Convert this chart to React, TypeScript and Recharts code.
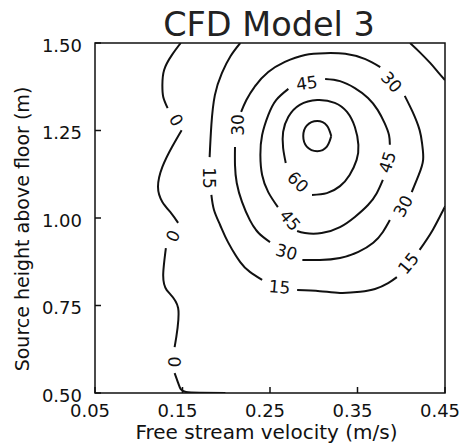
import { ScatterChart, Scatter, XAxis, YAxis, ReferenceArea } from 'recharts';

// contour segments, [velocity (m/s), height (m)]
const zeroA = [[0.148, 1.5], [0.138, 1.466], [0.129, 1.423], [0.127, 1.38], [0.128, 1.346], [0.133, 1.314]];
const zeroB = [[0.149, 1.251], [0.138, 1.203], [0.127, 1.146], [0.122, 1.089], [0.127, 1.046], [0.137, 1.014], [0.145, 0.986]];
const zeroC = [[0.131, 0.914], [0.128, 0.843], [0.132, 0.794], [0.145, 0.743], [0.141, 0.631]];
const zeroD = [[0.141, 0.557], [0.145, 0.529], [0.148, 0.511], [0.154, 0.503], [0.17, 0.501], [0.199, 0.5]];

const fifteenA = [[0.216, 1.5], [0.205, 1.463], [0.195, 1.414], [0.187, 1.351], [0.183, 1.266], [0.181, 1.174]];
const fifteenB = [[0.183, 1.066], [0.186, 1.023], [0.193, 0.98], [0.202, 0.931], [0.216, 0.874], [0.227, 0.846], [0.241, 0.823]];
const fifteenC = [[0.281, 0.794], [0.307, 0.791], [0.33, 0.786], [0.353, 0.789], [0.37, 0.797], [0.385, 0.814], [0.395, 0.831]];
const fifteenD = [[0.421, 0.909], [0.436, 0.966], [0.448, 1.023], [0.45, 1.031]];

const thirtyA = [[0.21, 1.203], [0.21, 1.151], [0.212, 1.1], [0.218, 1.046], [0.227, 0.994], [0.237, 0.957], [0.25, 0.931]];
const thirtyB = [[0.287, 0.88], [0.307, 0.88], [0.33, 0.886], [0.351, 0.903], [0.368, 0.929], [0.379, 0.96], [0.387, 0.994]];
const thirtyC = [[0.412, 1.074], [0.42, 1.123], [0.425, 1.166], [0.424, 1.209], [0.421, 1.251], [0.413, 1.303], [0.404, 1.349]];
const thirtyD = [[0.376, 1.431], [0.359, 1.454], [0.336, 1.469], [0.313, 1.471], [0.29, 1.466], [0.267, 1.446], [0.248, 1.417], [0.233, 1.377], [0.223, 1.337], [0.217, 1.303]];

const fortyFiveA = [[0.313, 1.397], [0.33, 1.391], [0.347, 1.371], [0.362, 1.343], [0.373, 1.309], [0.381, 1.271], [0.386, 1.237], [0.387, 1.209]];
const fortyFiveB = [[0.379, 1.109], [0.372, 1.071], [0.362, 1.037], [0.347, 1.003], [0.33, 0.974], [0.309, 0.957], [0.29, 0.957], [0.281, 0.963]];
const fortyFiveC = [[0.259, 1.031], [0.248, 1.074], [0.241, 1.123], [0.239, 1.18], [0.241, 1.237], [0.248, 1.294], [0.257, 1.337], [0.271, 1.369]];

const sixty = [[0.298, 1.066], [0.315, 1.071], [0.33, 1.091], [0.341, 1.123], [0.349, 1.166], [0.351, 1.209], [0.347, 1.26], [0.338, 1.303], [0.324, 1.329], [0.304, 1.337], [0.284, 1.323], [0.271, 1.289], [0.265, 1.246], [0.265, 1.2], [0.268, 1.157]];

const inner = [[0.32, 1.234], [0.315, 1.264], [0.304, 1.277], [0.292, 1.264], [0.288, 1.234], [0.292, 1.204], [0.304, 1.191], [0.315, 1.204], [0.32, 1.234]];

const corner = [[0.41, 1.5], [0.421, 1.474], [0.433, 1.443], [0.442, 1.417], [0.45, 1.394]];

const contourLabels = [
  { x: 0.143, y: 1.28, text: '0', angle: 57 },
  { x: 0.139, y: 0.949, text: '0', angle: -64 },
  { x: 0.141, y: 0.589, text: '0', angle: -88 },
  { x: 0.18, y: 1.114, text: '15', angle: 90 },
  { x: 0.261, y: 0.803, text: '15', angle: 5 },
  { x: 0.408, y: 0.871, text: '15', angle: -50 },
  { x: 0.213, y: 1.266, text: '30', angle: -90 },
  { x: 0.269, y: 0.903, text: '30', angle: 15 },
  { x: 0.402, y: 1.034, text: '30', angle: -62 },
  { x: 0.389, y: 1.389, text: '30', angle: 48 },
  { x: 0.292, y: 1.386, text: '45', angle: -8 },
  { x: 0.384, y: 1.16, text: '45', angle: -72 },
  { x: 0.273, y: 0.994, text: '45', angle: 50 },
  { x: 0.282, y: 1.103, text: '60', angle: 45 },
];

const xTicks = [0.05, 0.15, 0.25, 0.35, 0.45];
const yTicks = [0.5, 0.75, 1.0, 1.25, 1.5];

const segments = [zeroA, zeroB, zeroC, zeroD, fifteenA, fifteenB, fifteenC, fifteenD,
  thirtyA, thirtyB, thirtyC, thirtyD, fortyFiveA, fortyFiveB, fortyFiveC, sixty, inner, corner];

const font = '"DejaVu Sans", sans-serif';

const XTick = (props: any) => {
  const { x, y, payload } = props;
  return (
    <g>
      <line x1={x} y1={y} x2={x} y2={y - 6} stroke="#111" strokeWidth={1.5} />
      <text x={x - 5} y={y + 23.5} textAnchor="middle" fontSize={18} fontFamily={font} fill="#111">
        {payload.value.toFixed(2)}
      </text>
    </g>
  );
};

const YTick = (props: any) => {
  const { x, y, payload } = props;
  return (
    <g>
      <line x1={x} y1={y} x2={x + 6} y2={y} stroke="#111" strokeWidth={1.5} />
      <text x={x - 13} y={y + 8.5} textAnchor="end" fontSize={18} fontFamily={font} fill="#111">
        {payload.value.toFixed(2)}
      </text>
    </g>
  );
};

const LabelShape = (props: any) => {
  const { cx, cy, payload } = props;
  return (
    <text
      x={cx}
      y={cy}
      dy="0.36em"
      textAnchor="middle"
      fontSize={17}
      fontFamily={font}
      fill="#111"
      transform={`rotate(${payload.angle} ${cx} ${cy})`}
    >
      {payload.text}
    </text>
  );
};

export default function App() {
  return (
    <div style={{ position: 'absolute', left: 0, top: 0, width: 464, height: 446, background: '#fff' }}>
      <ScatterChart width={464} height={446} margin={{ top: 43, right: 19, bottom: 23, left: 35 }}>
        <XAxis
          type="number"
          dataKey="x"
          domain={[0.05, 0.45]}
          ticks={xTicks}
          allowDataOverflow
          height={30}
          axisLine={false}
          tickLine={false}
          tickSize={0}
          tickMargin={0}
          tick={<XTick />}
          interval={0}
        />
        <YAxis
          type="number"
          dataKey="y"
          domain={[0.5, 1.5]}
          ticks={yTicks}
          allowDataOverflow
          width={60}
          axisLine={false}
          tickLine={false}
          tickSize={0}
          tickMargin={0}
          tick={<YTick />}
          interval={0}
        />
        <ReferenceArea x1={0.05} x2={0.45} y1={0.5} y2={1.5} fill="none" stroke="#111" strokeWidth={1.5} strokeOpacity={1} fillOpacity={0} />
        {segments.map((seg, i) => (
          <Scatter
            key={i}
            data={seg.map(([x, y]) => ({ x, y }))}
            line={{ stroke: '#111', strokeWidth: 2 }}
            lineType="joint"
            lineJointType="natural"
            shape={() => <g />}
            isAnimationActive={false}
          />
        ))}
        <Scatter data={contourLabels} shape={<LabelShape />} isAnimationActive={false} />
      </ScatterChart>
      <div style={{ position: 'absolute', left: 0, width: 538, top: 8, fontFamily: font, fontSize: 33.5, lineHeight: '33.5px', textAlign: 'center', color: '#222' }}>
        CFD Model 3
      </div>
      <div style={{ position: 'absolute', left: 0, width: 533, top: 422, fontFamily: font, fontSize: 20, lineHeight: '20px', textAlign: 'center', color: '#111' }}>
        Free stream velocity (m/s)
      </div>
      <div style={{ position: 'absolute', left: 22 - 170, top: 229 - 10, width: 340, height: 20, fontFamily: font, fontSize: 19, lineHeight: '20px', textAlign: 'center', color: '#111', transform: 'rotate(-90deg)', whiteSpace: 'nowrap' }}>
        Source height above floor (m)
      </div>
    </div>
  );
}
